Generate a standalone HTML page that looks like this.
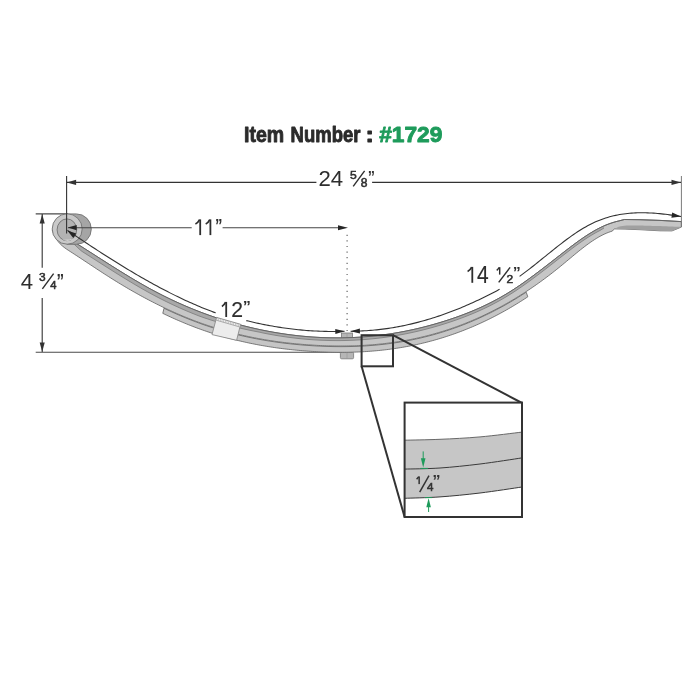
<!DOCTYPE html>
<html><head><meta charset="utf-8"><style>
html,body{margin:0;padding:0;background:#fff;overflow:hidden;}
svg{display:block;will-change:transform;}
text{font-family:"Liberation Sans",sans-serif;}
</style></head><body>
<svg width="700" height="700" viewBox="0 0 700 700">
<rect width="700" height="700" fill="#fff"/>
<!-- title -->
<g font-size="22.7" font-weight="bold" fill="#2b2b2b" stroke="#2b2b2b" stroke-width="0.95" stroke-linejoin="round">
<text transform="translate(244.0,142.4) scale(0.86,1)" x="0" y="0">Item</text>
<text transform="translate(290.6,142.4) scale(0.815,1)" x="0" y="0">Number</text>
<text transform="translate(365.4,142.4) scale(1.1,1)" x="0" y="0">:</text>
<text transform="translate(379.2,142.4) scale(1.0,1)" x="0" y="0" fill="#1e9b5b" stroke="#1e9b5b">#1729</text>
</g>
<!-- extension lines -->
<g stroke="#6a6a6a" stroke-width="1" fill="none">
<line x1="681.4" y1="176" x2="681.4" y2="227.1" stroke="#7a7a7a"/>
<line x1="35.7" y1="213.8" x2="68" y2="213.8" stroke="#4a4a4a" stroke-width="1.15"/>
<line x1="35.7" y1="352.2" x2="342" y2="352.2" stroke="#4a4a4a" stroke-width="1.15"/>
</g>
<!-- dimension lines -->
<g stroke="#333" stroke-width="1.1" fill="none">
<line x1="66.6" y1="182.4" x2="316.4" y2="182.4"/>
<line x1="372.1" y1="182.4" x2="681" y2="182.4"/>
<line x1="42.2" y1="214" x2="42.2" y2="267.7"/>
<line x1="42.2" y1="298" x2="42.2" y2="352"/>
</g>
<line x1="347.1" y1="231" x2="347.1" y2="331" stroke="#666" stroke-width="1.2" stroke-dasharray="1.2,4.4" stroke-dashoffset="1.9"/>
<g fill="#333">
<path d="M66.80,182.40 L76.10,179.85 L76.10,184.95 Z"/>
<path d="M680.80,182.40 L671.50,184.95 L671.50,179.85 Z"/>
<path d="M42.20,214.20 L44.75,223.50 L39.65,223.50 Z"/>
<path d="M42.20,351.80 L39.65,342.50 L44.75,342.50 Z"/>
</g>
<!-- bolt -->
<rect x="341.4" y="333" width="11.1" height="5.6" fill="#b6b6b6" stroke="#777" stroke-width="0.8"/><line x1="347" y1="333.5" x2="347" y2="338.3" stroke="#999" stroke-width="0.6"/>
<rect x="340.4" y="352.2" width="13.2" height="6.6" rx="1.2" fill="#b6b6b6" stroke="#777" stroke-width="0.8"/>
<line x1="347" y1="352.5" x2="347" y2="358.5" stroke="#999" stroke-width="0.6"/>
<!-- second leaf -->
<path d="M164.00,308.23 L166.00,309.18 L168.00,310.12 L170.00,311.05 L172.00,311.96 L174.00,312.86 L176.00,313.75 L178.00,314.62 L180.00,315.48 L182.00,316.33 L184.00,317.17 L186.00,317.99 L188.00,318.80 L190.00,319.60 L192.00,320.38 L194.00,321.15 L196.00,321.91 L198.00,322.66 L200.00,323.39 L202.00,324.10 L204.00,324.81 L206.00,325.50 L208.00,326.17 L210.00,326.84 L212.00,327.49 L214.00,328.12 L216.00,328.75 L218.00,329.36 L220.00,329.96 L222.00,330.55 L224.00,331.12 L226.00,331.68 L228.00,332.23 L230.00,332.77 L232.00,333.30 L234.00,333.81 L236.00,334.32 L238.00,334.81 L240.00,335.29 L242.00,335.75 L244.00,336.21 L246.00,336.65 L248.00,337.09 L250.00,337.51 L252.00,337.92 L254.00,338.32 L256.00,338.71 L258.00,339.09 L260.00,339.46 L262.00,339.82 L264.00,340.17 L266.00,340.51 L268.00,340.84 L270.00,341.15 L272.00,341.46 L274.00,341.76 L276.00,342.05 L278.00,342.33 L280.00,342.60 L282.00,342.85 L284.00,343.11 L286.00,343.35 L288.00,343.58 L290.00,343.80 L292.00,344.02 L294.00,344.22 L296.00,344.42 L298.00,344.61 L300.00,344.79 L302.00,344.96 L304.00,345.12 L306.00,345.27 L308.00,345.42 L310.00,345.56 L312.00,345.69 L314.00,345.81 L316.00,345.93 L318.00,346.03 L320.00,346.13 L322.00,346.22 L324.00,346.30 L326.00,346.37 L328.00,346.44 L330.00,346.49 L332.00,346.54 L334.00,346.58 L336.00,346.60 L338.00,346.62 L340.00,346.63 L342.00,346.63 L344.00,346.62 L346.00,346.60 L348.00,346.57 L350.00,346.53 L352.00,346.48 L354.00,346.42 L356.00,346.35 L358.00,346.27 L360.00,346.18 L362.00,346.08 L364.00,345.97 L366.00,345.85 L368.00,345.72 L370.00,345.57 L372.00,345.42 L374.00,345.25 L376.00,345.07 L378.00,344.88 L380.00,344.68 L382.00,344.47 L384.00,344.25 L386.00,344.01 L388.00,343.76 L390.00,343.50 L392.00,343.23 L394.00,342.95 L396.00,342.65 L398.00,342.34 L400.00,342.02 L402.00,341.69 L404.00,341.34 L406.00,340.98 L408.00,340.61 L410.00,340.23 L412.00,339.83 L414.00,339.41 L416.00,338.99 L418.00,338.55 L420.00,338.10 L422.00,337.63 L424.00,337.15 L426.00,336.66 L428.00,336.15 L430.00,335.63 L432.00,335.09 L434.00,334.54 L436.00,333.98 L438.00,333.40 L440.00,332.80 L442.00,332.19 L444.00,331.57 L446.00,330.93 L448.00,330.28 L450.00,329.61 L452.00,328.93 L454.00,328.23 L456.00,327.51 L458.00,326.79 L460.00,326.04 L462.00,325.28 L464.00,324.51 L466.00,323.71 L468.00,322.91 L470.00,322.08 L472.00,321.25 L474.00,320.39 L476.00,319.52 L478.00,318.63 L480.00,317.73 L482.00,316.81 L484.00,315.88 L486.00,314.92 L488.00,313.95 L490.00,312.97 L492.00,311.97 L494.00,310.95 L496.00,309.91 L498.00,308.86 L500.00,307.79 L502.00,306.70 L504.00,305.60 L506.00,304.47 L508.00,303.34 L510.00,302.18 L512.00,301.00 L514.00,299.81 L516.00,298.60 L518.00,297.38 L520.00,296.13 L522.00,294.87 L524.00,293.59 L526.00,292.29 L526.20,292.15 L527.80,296.80 L526.80,297.46 L524.80,298.77 L522.80,300.06 L520.80,301.33 L518.80,302.58 L516.80,303.81 L514.80,305.03 L512.80,306.23 L510.80,307.41 L508.80,308.58 L506.80,309.72 L504.80,310.85 L502.80,311.96 L500.80,313.06 L498.80,314.13 L496.80,315.19 L494.80,316.24 L492.80,317.26 L490.80,318.27 L488.80,319.26 L486.80,320.24 L484.80,321.20 L482.80,322.14 L480.80,323.07 L478.80,323.97 L476.80,324.87 L474.80,325.75 L472.80,326.61 L470.80,327.45 L468.80,328.28 L466.80,329.09 L464.80,329.89 L462.80,330.67 L460.80,331.44 L458.80,332.19 L456.80,332.92 L454.80,333.64 L452.80,334.35 L450.80,335.04 L448.80,335.71 L446.80,336.37 L444.80,337.02 L442.80,337.65 L440.80,338.26 L438.80,338.86 L436.80,339.45 L434.80,340.02 L432.80,340.57 L430.80,341.12 L428.80,341.64 L426.80,342.16 L424.80,342.66 L422.80,343.14 L420.80,343.61 L418.80,344.07 L416.80,344.52 L414.80,344.95 L412.80,345.36 L410.80,345.77 L408.80,346.16 L406.80,346.54 L404.80,346.90 L402.80,347.25 L400.80,347.59 L398.80,347.92 L396.80,348.23 L394.80,348.53 L392.80,348.82 L390.80,349.10 L388.80,349.36 L386.80,349.61 L384.80,349.85 L382.80,350.08 L380.80,350.30 L378.80,350.50 L376.80,350.70 L374.80,350.88 L372.80,351.05 L370.80,351.21 L368.80,351.36 L366.80,351.50 L364.80,351.62 L362.80,351.74 L360.80,351.84 L358.80,351.94 L356.80,352.02 L354.80,352.10 L352.80,352.16 L350.80,352.21 L348.80,352.26 L346.80,352.29 L344.80,352.31 L342.80,352.33 L340.80,352.33 L338.80,352.33 L336.80,352.31 L334.80,352.29 L332.80,352.25 L330.80,352.21 L328.80,352.16 L326.80,352.10 L324.80,352.03 L322.80,351.95 L320.80,351.87 L318.80,351.77 L316.80,351.67 L314.80,351.56 L312.80,351.44 L310.80,351.31 L308.80,351.18 L306.80,351.03 L304.80,350.88 L302.80,350.72 L300.80,350.55 L298.80,350.38 L296.80,350.19 L294.80,350.00 L292.80,349.80 L290.80,349.59 L288.80,349.37 L286.80,349.14 L284.80,348.90 L282.80,348.66 L280.80,348.40 L278.80,348.13 L276.80,347.86 L274.80,347.58 L272.80,347.28 L270.80,346.98 L268.80,346.66 L266.80,346.34 L264.80,346.01 L262.80,345.66 L260.80,345.31 L258.80,344.94 L256.80,344.57 L254.80,344.18 L252.80,343.78 L250.80,343.38 L248.80,342.96 L246.80,342.53 L244.80,342.09 L242.80,341.64 L240.80,341.17 L238.80,340.70 L236.80,340.21 L234.80,339.72 L232.80,339.21 L230.80,338.68 L228.80,338.15 L226.80,337.61 L224.80,337.05 L222.80,336.48 L220.80,335.90 L218.80,335.30 L216.80,334.70 L214.80,334.08 L212.80,333.44 L210.80,332.80 L208.80,332.14 L206.80,331.47 L204.80,330.78 L202.80,330.08 L200.80,329.37 L198.80,328.65 L196.80,327.91 L194.80,327.16 L192.80,326.39 L190.80,325.62 L188.80,324.82 L186.80,324.02 L184.80,323.20 L182.80,322.37 L180.80,321.53 L178.80,320.67 L176.80,319.80 L174.80,318.92 L172.80,318.02 L170.80,317.11 L168.80,316.19 L166.80,315.26 L164.80,314.32 L162.80,313.36 Z" fill="#c5c5c5" stroke="#6c6c6c" stroke-width="0.9" stroke-linejoin="round"/>
<!-- main leaf -->
<path d="M72.00,240.74 L74.00,241.98 L76.00,243.23 L78.00,244.49 L80.00,245.75 L82.00,247.01 L84.00,248.28 L86.00,249.55 L88.00,250.82 L90.00,252.10 L92.00,253.37 L94.00,254.65 L96.00,255.93 L98.00,257.21 L100.00,258.48 L102.00,259.76 L104.00,261.03 L106.00,262.31 L108.00,263.58 L110.00,264.84 L112.00,266.11 L114.00,267.37 L116.00,268.62 L118.00,269.87 L120.00,271.12 L122.00,272.36 L124.00,273.59 L126.00,274.81 L128.00,276.03 L130.00,277.24 L132.00,278.44 L134.00,279.63 L136.00,280.81 L138.00,281.98 L140.00,283.14 L142.00,284.29 L144.00,285.43 L146.00,286.55 L148.00,287.67 L150.00,288.77 L152.00,289.85 L154.00,290.92 L156.00,291.98 L158.00,293.03 L160.00,294.06 L162.00,295.08 L164.00,296.08 L166.00,297.07 L168.00,298.05 L170.00,299.01 L172.00,299.97 L174.00,300.90 L176.00,301.83 L178.00,302.74 L180.00,303.64 L182.00,304.53 L184.00,305.40 L186.00,306.26 L188.00,307.11 L190.00,307.94 L192.00,308.77 L194.00,309.58 L196.00,310.38 L198.00,311.16 L200.00,311.93 L202.00,312.69 L204.00,313.44 L206.00,314.18 L208.00,314.90 L210.00,315.62 L212.00,316.32 L214.00,317.00 L216.00,317.68 L218.00,318.34 L220.00,319.00 L222.00,319.64 L224.00,320.27 L226.00,320.88 L228.00,321.49 L230.00,322.08 L232.00,322.67 L234.00,323.24 L236.00,323.80 L238.00,324.34 L240.00,324.88 L242.00,325.41 L244.00,325.92 L246.00,326.43 L248.00,326.92 L250.00,327.40 L252.00,327.87 L254.00,328.33 L256.00,328.78 L258.00,329.22 L260.00,329.65 L262.00,330.07 L264.00,330.47 L266.00,330.87 L268.00,331.26 L270.00,331.63 L272.00,331.99 L274.00,332.35 L276.00,332.69 L278.00,333.02 L280.00,333.34 L282.00,333.65 L284.00,333.95 L286.00,334.24 L288.00,334.52 L290.00,334.79 L292.00,335.04 L294.00,335.29 L296.00,335.52 L298.00,335.75 L300.00,335.96 L302.00,336.16 L304.00,336.35 L306.00,336.53 L308.00,336.70 L310.00,336.85 L312.00,337.00 L314.00,337.14 L316.00,337.26 L318.00,337.37 L320.00,337.47 L322.00,337.57 L324.00,337.64 L326.00,337.71 L328.00,337.77 L330.00,337.82 L332.00,337.85 L334.00,337.87 L336.00,337.89 L338.00,337.89 L340.00,337.88 L342.00,337.86 L344.00,337.82 L346.00,337.78 L348.00,337.72 L350.00,337.65 L352.00,337.58 L354.00,337.49 L356.00,337.38 L358.00,337.27 L360.00,337.15 L362.00,337.01 L364.00,336.86 L366.00,336.71 L368.00,336.53 L370.00,336.35 L372.00,336.16 L374.00,335.95 L376.00,335.74 L378.00,335.51 L380.00,335.27 L382.00,335.02 L384.00,334.75 L386.00,334.48 L388.00,334.19 L390.00,333.89 L392.00,333.58 L394.00,333.26 L396.00,332.92 L398.00,332.58 L400.00,332.22 L402.00,331.85 L404.00,331.47 L406.00,331.08 L408.00,330.67 L410.00,330.25 L412.00,329.83 L414.00,329.38 L416.00,328.93 L418.00,328.47 L420.00,327.99 L422.00,327.50 L424.00,327.00 L426.00,326.49 L428.00,325.96 L430.00,325.42 L432.00,324.87 L434.00,324.31 L436.00,323.74 L438.00,323.15 L440.00,322.56 L442.00,321.95 L444.00,321.32 L446.00,320.69 L448.00,320.04 L450.00,319.38 L452.00,318.71 L454.00,318.03 L456.00,317.33 L458.00,316.62 L460.00,315.89 L462.00,315.15 L464.00,314.40 L466.00,313.62 L468.00,312.84 L470.00,312.03 L472.00,311.21 L474.00,310.37 L476.00,309.52 L478.00,308.64 L480.00,307.75 L482.00,306.84 L484.00,305.90 L486.00,304.95 L488.00,303.97 L490.00,302.98 L492.00,301.96 L494.00,300.92 L496.00,299.85 L498.00,298.77 L500.00,297.66 L502.00,296.52 L504.00,295.36 L506.00,294.18 L508.00,292.97 L510.00,291.73 L512.00,290.47 L514.00,289.18 L516.00,287.87 L518.00,286.53 L520.00,285.17 L522.00,283.79 L524.00,282.39 L526.00,280.97 L528.00,279.54 L530.00,278.09 L532.00,276.62 L534.00,275.14 L536.00,273.64 L538.00,272.14 L540.00,270.62 L542.00,269.09 L544.00,267.56 L546.00,266.02 L548.00,264.47 L550.00,262.91 L552.00,261.36 L554.00,259.80 L556.00,258.23 L558.00,256.67 L560.00,255.11 L562.00,253.55 L564.00,251.99 L566.00,250.45 L568.00,248.91 L570.00,247.38 L572.00,245.87 L574.00,244.38 L576.00,242.90 L578.00,241.45 L580.00,240.03 L582.00,238.63 L584.00,237.26 L586.00,235.93 L588.00,234.64 L590.00,233.38 L592.00,232.16 L594.00,230.99 L596.00,229.87 L598.00,228.79 L600.00,227.77 L602.00,226.80 L604.00,225.88 L606.00,225.03 L608.00,224.24 L610.00,223.51 L612.00,222.83 L614.00,222.21 L616.00,221.64 L618.00,221.13 L620.00,220.66 L624.30,219.50 L640.00,219.70 L660.00,220.40 L681.30,221.60 L681.30,227.10 L672.00,230.90 L660.00,230.80 L640.00,229.70 L625.00,229.10 L614.60,228.90 L612.00,231.17 L610.20,231.75 L608.20,232.48 L606.20,233.29 L604.20,234.18 L602.20,235.16 L600.20,236.21 L598.20,237.34 L596.20,238.54 L594.20,239.80 L592.20,241.12 L590.20,242.49 L588.20,243.92 L586.20,245.39 L584.20,246.90 L582.20,248.45 L580.20,250.03 L578.20,251.64 L576.20,253.27 L574.20,254.91 L572.20,256.58 L570.20,258.25 L568.20,259.92 L566.20,261.59 L564.20,263.26 L562.20,264.92 L560.20,266.56 L558.20,268.18 L556.20,269.79 L554.20,271.37 L552.20,272.94 L550.20,274.49 L548.20,276.01 L546.20,277.52 L544.20,279.01 L542.20,280.48 L540.20,281.93 L538.20,283.36 L536.20,284.77 L534.20,286.16 L532.20,287.54 L530.20,288.90 L528.20,290.23 L526.20,291.55 L524.20,292.86 L522.20,294.14 L520.20,295.40 L518.20,296.65 L516.20,297.88 L514.20,299.09 L512.20,300.29 L510.20,301.46 L508.20,302.62 L506.20,303.76 L504.20,304.89 L502.20,305.99 L500.20,307.08 L498.20,308.15 L496.20,309.21 L494.20,310.24 L492.20,311.27 L490.20,312.27 L488.20,313.26 L486.20,314.23 L484.20,315.18 L482.20,316.12 L480.20,317.04 L478.20,317.94 L476.20,318.83 L474.20,319.71 L472.20,320.56 L470.20,321.40 L468.20,322.23 L466.20,323.03 L464.20,323.83 L462.20,324.60 L460.20,325.37 L458.20,326.11 L456.20,326.84 L454.20,327.56 L452.20,328.26 L450.20,328.94 L448.20,329.61 L446.20,330.27 L444.20,330.91 L442.20,331.53 L440.20,332.14 L438.20,332.74 L436.20,333.32 L434.20,333.89 L432.20,334.44 L430.20,334.98 L428.20,335.50 L426.20,336.01 L424.20,336.50 L422.20,336.98 L420.20,337.45 L418.20,337.91 L416.20,338.35 L414.20,338.77 L412.20,339.19 L410.20,339.59 L408.20,339.97 L406.20,340.35 L404.20,340.71 L402.20,341.06 L400.20,341.39 L398.20,341.71 L396.20,342.02 L394.20,342.32 L392.20,342.61 L390.20,342.88 L388.20,343.14 L386.20,343.39 L384.20,343.62 L382.20,343.85 L380.20,344.06 L378.20,344.26 L376.20,344.45 L374.20,344.63 L372.20,344.80 L370.20,344.96 L368.20,345.10 L366.20,345.24 L364.20,345.36 L362.20,345.47 L360.20,345.57 L358.20,345.67 L356.20,345.75 L354.20,345.82 L352.20,345.88 L350.20,345.93 L348.20,345.97 L346.20,346.00 L344.20,346.02 L342.20,346.03 L340.20,346.03 L338.20,346.02 L336.20,346.01 L334.20,345.98 L332.20,345.94 L330.20,345.90 L328.20,345.84 L326.20,345.78 L324.20,345.71 L322.20,345.63 L320.20,345.54 L318.20,345.44 L316.20,345.34 L314.20,345.22 L312.20,345.10 L310.20,344.97 L308.20,344.83 L306.20,344.69 L304.20,344.53 L302.20,344.37 L300.20,344.20 L298.20,344.02 L296.20,343.84 L294.20,343.64 L292.20,343.44 L290.20,343.22 L288.20,343.00 L286.20,342.77 L284.20,342.53 L282.20,342.28 L280.20,342.02 L278.20,341.75 L276.20,341.48 L274.20,341.19 L272.20,340.89 L270.20,340.58 L268.20,340.27 L266.20,339.94 L264.20,339.60 L262.20,339.26 L260.20,338.90 L258.20,338.53 L256.20,338.15 L254.20,337.76 L252.20,337.36 L250.20,336.95 L248.20,336.53 L246.20,336.10 L244.20,335.65 L242.20,335.20 L240.20,334.73 L238.20,334.25 L236.20,333.77 L234.20,333.26 L232.20,332.75 L230.20,332.23 L228.20,331.69 L226.20,331.14 L224.20,330.58 L222.20,330.01 L220.20,329.42 L218.20,328.82 L216.20,328.21 L214.20,327.59 L212.20,326.95 L210.20,326.30 L208.20,325.64 L206.20,324.96 L204.20,324.27 L202.20,323.57 L200.20,322.86 L198.20,322.13 L196.20,321.39 L194.20,320.63 L192.20,319.86 L190.20,319.08 L188.20,318.28 L186.20,317.47 L184.20,316.65 L182.20,315.82 L180.20,314.97 L178.20,314.11 L176.20,313.24 L174.20,312.35 L172.20,311.45 L170.20,310.54 L168.20,309.62 L166.20,308.68 L164.20,307.73 L162.20,306.77 L160.20,305.79 L158.20,304.81 L156.20,303.81 L154.20,302.80 L152.20,301.78 L150.20,300.74 L148.20,299.70 L146.20,298.64 L144.20,297.57 L142.20,296.49 L140.20,295.40 L138.20,294.29 L136.20,293.17 L134.20,292.05 L132.20,290.91 L130.20,289.76 L128.20,288.60 L126.20,287.42 L124.20,286.24 L122.20,285.04 L120.20,283.84 L118.20,282.62 L116.20,281.39 L114.20,280.15 L112.20,278.90 L110.20,277.64 L108.20,276.37 L106.20,275.09 L104.20,273.80 L102.20,272.51 L100.20,271.20 L98.20,269.90 L96.20,268.58 L94.20,267.26 L92.20,265.94 L90.20,264.62 L88.20,263.29 L86.20,261.97 L84.20,260.65 L82.20,259.32 L80.20,258.01 L78.20,256.69 L76.20,255.38 L74.20,254.08 L72.20,252.78 L70.20,251.49 L68.20,250.20 L66.20,248.86 L64.20,247.41 L62.20,245.77 L60.20,243.89 L58.20,241.61 L56.20,238.71 L54.20,234.94 L52.20,230.06 Z" fill="#c6c6c6" stroke="#6c6c6c" stroke-width="0.9" stroke-linejoin="round"/>
<path d="M72.00,240.74 L74.00,241.98 L76.00,243.23 L78.00,244.49 L80.00,245.75 L82.00,247.01 L84.00,248.28 L86.00,249.55 L88.00,250.82 L90.00,252.10 L92.00,253.37 L94.00,254.65 L96.00,255.93 L98.00,257.21 L100.00,258.48 L102.00,259.76 L104.00,261.03 L106.00,262.31 L108.00,263.58 L110.00,264.84 L112.00,266.11 L114.00,267.37 L116.00,268.62 L118.00,269.87 L120.00,271.12 L122.00,272.36 L124.00,273.59 L126.00,274.81 L128.00,276.03 L130.00,277.24 L132.00,278.44 L134.00,279.63 L136.00,280.81 L138.00,281.98 L140.00,283.14 L142.00,284.29 L144.00,285.43 L146.00,286.55 L148.00,287.67 L150.00,288.77 L152.00,289.85 L154.00,290.92 L156.00,291.98 L158.00,293.03 L160.00,294.06 L162.00,295.08 L164.00,296.08 L166.00,297.07 L168.00,298.05 L170.00,299.01 L172.00,299.97 L174.00,300.90 L176.00,301.83 L178.00,302.74 L180.00,303.64 L182.00,304.53 L184.00,305.40 L186.00,306.26 L188.00,307.11 L190.00,307.94 L192.00,308.77 L194.00,309.58 L196.00,310.38 L198.00,311.16 L200.00,311.93 L202.00,312.69 L204.00,313.44 L206.00,314.18 L208.00,314.90 L210.00,315.62 L212.00,316.32 L214.00,317.00 L216.00,317.68 L218.00,318.34 L220.00,319.00 L222.00,319.64 L224.00,320.27 L226.00,320.88 L228.00,321.49 L230.00,322.08 L232.00,322.67 L234.00,323.24 L236.00,323.80 L238.00,324.34 L240.00,324.88 L242.00,325.41 L244.00,325.92 L246.00,326.43 L248.00,326.92 L250.00,327.40 L252.00,327.87 L254.00,328.33 L256.00,328.78 L258.00,329.22 L260.00,329.65 L262.00,330.07 L264.00,330.47 L266.00,330.87 L268.00,331.26 L270.00,331.63 L272.00,331.99 L274.00,332.35 L276.00,332.69 L278.00,333.02 L280.00,333.34 L282.00,333.65 L284.00,333.95 L286.00,334.24 L288.00,334.52 L290.00,334.79 L292.00,335.04 L294.00,335.29 L296.00,335.52 L298.00,335.75 L300.00,335.96 L302.00,336.16 L304.00,336.35 L306.00,336.53 L308.00,336.70 L310.00,336.85 L312.00,337.00 L314.00,337.14 L316.00,337.26 L318.00,337.37 L320.00,337.47 L322.00,337.57 L324.00,337.64 L326.00,337.71 L328.00,337.77 L330.00,337.82 L332.00,337.85 L334.00,337.87 L336.00,337.89 L338.00,337.89 L340.00,337.88 L342.00,337.86 L344.00,337.82 L346.00,337.78 L348.00,337.72 L350.00,337.65 L352.00,337.58 L354.00,337.49 L356.00,337.38 L358.00,337.27 L360.00,337.15 L362.00,337.01 L364.00,336.86 L366.00,336.71 L368.00,336.53 L370.00,336.35 L372.00,336.16 L374.00,335.95 L376.00,335.74 L378.00,335.51 L380.00,335.27 L382.00,335.02 L384.00,334.75 L386.00,334.48 L388.00,334.19 L390.00,333.89 L392.00,333.58 L394.00,333.26 L396.00,332.92 L398.00,332.58 L400.00,332.22 L402.00,331.85 L404.00,331.47 L406.00,331.08 L408.00,330.67 L410.00,330.25 L412.00,329.83 L414.00,329.38 L416.00,328.93 L418.00,328.47 L420.00,327.99 L422.00,327.50 L424.00,327.00 L426.00,326.49 L428.00,325.96 L430.00,325.42 L432.00,324.87 L434.00,324.31 L436.00,323.74 L438.00,323.15 L440.00,322.56 L442.00,321.95 L444.00,321.32 L446.00,320.69 L448.00,320.04 L450.00,319.38 L452.00,318.71 L454.00,318.03 L456.00,317.33 L458.00,316.62 L460.00,315.89 L462.00,315.15 L464.00,314.40 L466.00,313.62 L468.00,312.84 L470.00,312.03 L472.00,311.21 L474.00,310.37 L476.00,309.52 L478.00,308.64 L480.00,307.75 L482.00,306.84 L484.00,305.90 L486.00,304.95 L488.00,303.97 L490.00,302.98 L492.00,301.96 L494.00,300.92 L496.00,299.85 L498.00,298.77 L500.00,297.66 L502.00,296.52 L504.00,295.36 L506.00,294.18 L508.00,292.97 L510.00,291.73 L512.00,290.47 L514.00,289.18 L516.00,287.87 L518.00,286.53 L520.00,285.17 L522.00,283.79 L524.00,282.39 L526.00,280.97 L528.00,279.54 L530.00,278.09 L532.00,276.62 L534.00,275.14 L536.00,273.64 L538.00,272.14 L540.00,270.62 L542.00,269.09 L544.00,267.56 L546.00,266.02 L548.00,264.47 L550.00,262.91 L552.00,261.36 L554.00,259.80 L556.00,258.23 L558.00,256.67 L560.00,255.11 L562.00,253.55 L564.00,251.99 L566.00,250.45 L568.00,248.91 L570.00,247.38 L572.00,245.87 L574.00,244.38 L576.00,242.90 L578.00,241.45 L580.00,240.03 L582.00,238.63 L584.00,237.26 L586.00,235.93 L588.00,234.64 L590.00,233.38 L592.00,232.16 L594.00,230.99 L596.00,229.87 L598.00,228.79 L600.00,227.77 L602.00,226.80 L604.00,225.88 L604.00,228.02 L602.00,229.21 L600.00,230.47 L598.00,231.49 L596.00,232.57 L594.00,233.69 L592.00,234.86 L590.00,236.08 L588.00,237.34 L586.00,238.63 L584.00,239.96 L582.00,241.33 L580.00,242.73 L578.00,244.15 L576.00,245.60 L574.00,247.08 L572.00,248.57 L570.00,250.08 L568.00,251.61 L566.00,253.15 L564.00,254.69 L562.00,256.25 L560.00,257.81 L558.00,259.37 L556.00,260.93 L554.00,262.50 L552.00,264.06 L550.00,265.61 L548.00,267.17 L546.00,268.72 L544.00,270.26 L542.00,271.79 L540.00,273.32 L538.00,274.84 L536.00,276.34 L534.00,277.84 L532.00,279.32 L530.00,280.79 L528.00,282.24 L526.00,283.67 L524.00,285.09 L522.00,286.49 L520.00,287.87 L518.00,289.23 L516.00,290.57 L514.00,291.88 L512.00,293.17 L510.00,294.43 L508.00,295.67 L506.00,296.88 L504.00,298.06 L502.00,299.22 L500.00,300.36 L498.00,301.47 L496.00,302.55 L494.00,303.62 L492.00,304.66 L490.00,305.68 L488.00,306.67 L486.00,307.65 L484.00,308.60 L482.00,309.54 L480.00,310.45 L478.00,311.34 L476.00,312.22 L474.00,313.07 L472.00,313.91 L470.00,314.73 L468.00,315.54 L466.00,316.32 L464.00,317.10 L462.00,317.85 L460.00,318.59 L458.00,319.32 L456.00,320.03 L454.00,320.73 L452.00,321.41 L450.00,322.08 L448.00,322.74 L446.00,323.39 L444.00,324.02 L442.00,324.65 L440.00,325.26 L438.00,325.85 L436.00,326.44 L434.00,327.01 L432.00,327.57 L430.00,328.12 L428.00,328.66 L426.00,329.19 L424.00,329.70 L422.00,330.20 L420.00,330.69 L418.00,331.17 L416.00,331.63 L414.00,332.08 L412.00,332.53 L410.00,332.95 L408.00,333.37 L406.00,333.78 L404.00,334.17 L402.00,334.55 L400.00,334.92 L398.00,335.28 L396.00,335.62 L394.00,335.96 L392.00,336.28 L390.00,336.59 L388.00,336.89 L386.00,337.18 L384.00,337.45 L382.00,337.72 L380.00,337.97 L378.00,338.21 L376.00,338.44 L374.00,338.65 L372.00,338.86 L370.00,339.05 L368.00,339.23 L366.00,339.41 L364.00,339.56 L362.00,339.71 L360.00,339.85 L358.00,339.97 L356.00,340.08 L354.00,340.19 L352.00,340.28 L350.00,340.35 L348.00,340.42 L346.00,340.48 L344.00,340.52 L342.00,340.56 L340.00,340.58 L338.00,340.59 L336.00,340.59 L334.00,340.57 L332.00,340.55 L330.00,340.52 L328.00,340.47 L326.00,340.41 L324.00,340.34 L322.00,340.27 L320.00,340.17 L318.00,340.07 L316.00,339.96 L314.00,339.84 L312.00,339.70 L310.00,339.55 L308.00,339.40 L306.00,339.23 L304.00,339.05 L302.00,338.86 L300.00,338.66 L298.00,338.45 L296.00,338.22 L294.00,337.99 L292.00,337.74 L290.00,337.49 L288.00,337.22 L286.00,336.94 L284.00,336.65 L282.00,336.35 L280.00,336.04 L278.00,335.72 L276.00,335.39 L274.00,335.05 L272.00,334.69 L270.00,334.33 L268.00,333.96 L266.00,333.57 L264.00,333.17 L262.00,332.77 L260.00,332.25 L258.00,331.88 L256.00,331.50 L254.00,331.11 L252.00,330.71 L250.00,330.30 L248.00,329.88 L246.00,329.45 L244.00,329.00 L242.00,328.55 L240.00,328.08 L238.00,327.60 L236.00,327.12 L234.00,326.62 L232.00,326.11 L230.00,325.58 L228.00,325.05 L226.00,324.50 L224.00,323.95 L222.00,323.38 L220.00,322.80 L218.00,322.20 L216.00,321.60 L214.00,320.98 L212.00,320.36 L210.00,319.72 L208.00,319.06 L206.00,318.40 L204.00,317.72 L202.00,317.03 L200.00,316.33 L198.00,315.56 L196.00,314.78 L194.00,313.98 L192.00,313.17 L190.00,312.34 L188.00,311.51 L186.00,310.66 L184.00,309.80 L182.00,308.93 L180.00,308.04 L178.00,307.14 L176.00,306.23 L174.00,305.30 L172.00,304.37 L170.00,303.41 L168.00,302.45 L166.00,301.47 L164.00,300.48 L162.00,299.48 L160.00,298.46 L158.00,297.43 L156.00,296.38 L154.00,295.32 L152.00,294.25 L150.00,293.17 L148.00,292.07 L146.00,290.95 L144.00,289.83 L142.00,288.69 L140.00,287.54 L138.00,286.38 L136.00,285.21 L134.00,284.03 L132.00,282.84 L130.00,281.64 L128.00,280.43 L126.00,279.21 L124.00,277.99 L122.00,276.76 L120.00,275.52 L118.00,274.27 L116.00,273.02 L114.00,271.77 L112.00,270.51 L110.00,269.24 L108.00,267.98 L106.00,266.71 L104.00,265.43 L102.00,264.16 L100.00,262.88 L98.00,261.61 L96.00,260.33 L94.00,259.05 L92.00,257.77 L90.00,256.50 L88.00,255.22 L86.00,253.95 L84.00,252.68 L82.00,251.41 L80.00,249.75 L78.00,247.86 L76.00,245.98 L74.00,244.11 L72.00,242.24 Z" fill="#a8a8a8" stroke="none"/>
<path d="M72.00,242.24 L74.00,244.11 L76.00,245.98 L78.00,247.86 L80.00,249.75 L82.00,251.41 L84.00,252.68 L86.00,253.95 L88.00,255.22 L90.00,256.50 L92.00,257.77 L94.00,259.05 L96.00,260.33 L98.00,261.61 L100.00,262.88 L102.00,264.16 L104.00,265.43 L106.00,266.71 L108.00,267.98 L110.00,269.24 L112.00,270.51 L114.00,271.77 L116.00,273.02 L118.00,274.27 L120.00,275.52 L122.00,276.76 L124.00,277.99 L126.00,279.21 L128.00,280.43 L130.00,281.64 L132.00,282.84 L134.00,284.03 L136.00,285.21 L138.00,286.38 L140.00,287.54 L142.00,288.69 L144.00,289.83 L146.00,290.95 L148.00,292.07 L150.00,293.17 L152.00,294.25 L154.00,295.32 L156.00,296.38 L158.00,297.43 L160.00,298.46 L162.00,299.48 L164.00,300.48 L166.00,301.47 L168.00,302.45 L170.00,303.41 L172.00,304.37 L174.00,305.30 L176.00,306.23 L178.00,307.14 L180.00,308.04 L182.00,308.93 L184.00,309.80 L186.00,310.66 L188.00,311.51 L190.00,312.34 L192.00,313.17 L194.00,313.98 L196.00,314.78 L198.00,315.56 L200.00,316.33 L202.00,317.03 L204.00,317.72 L206.00,318.40 L208.00,319.06 L210.00,319.72 L212.00,320.36 L214.00,320.98 L216.00,321.60 L218.00,322.20 L220.00,322.80 L222.00,323.38 L224.00,323.95 L226.00,324.50 L228.00,325.05 L230.00,325.58 L232.00,326.11 L234.00,326.62 L236.00,327.12 L238.00,327.60 L240.00,328.08 L242.00,328.55 L244.00,329.00 L246.00,329.45 L248.00,329.88 L250.00,330.30 L252.00,330.71 L254.00,331.11 L256.00,331.50 L258.00,331.88 L260.00,332.25 L262.00,332.77 L264.00,333.17 L266.00,333.57 L268.00,333.96 L270.00,334.33 L272.00,334.69 L274.00,335.05 L276.00,335.39 L278.00,335.72 L280.00,336.04 L282.00,336.35 L284.00,336.65 L286.00,336.94 L288.00,337.22 L290.00,337.49 L292.00,337.74 L294.00,337.99 L296.00,338.22 L298.00,338.45 L300.00,338.66 L302.00,338.86 L304.00,339.05 L306.00,339.23 L308.00,339.40 L310.00,339.55 L312.00,339.70 L314.00,339.84 L316.00,339.96 L318.00,340.07 L320.00,340.17 L322.00,340.27 L324.00,340.34 L326.00,340.41 L328.00,340.47 L330.00,340.52 L332.00,340.55 L334.00,340.57 L336.00,340.59 L338.00,340.59 L340.00,340.58 L342.00,340.56 L344.00,340.52 L346.00,340.48 L348.00,340.42 L350.00,340.35 L352.00,340.28 L354.00,340.19 L356.00,340.08 L358.00,339.97 L360.00,339.85 L362.00,339.71 L364.00,339.56 L366.00,339.41 L368.00,339.23 L370.00,339.05 L372.00,338.86 L374.00,338.65 L376.00,338.44 L378.00,338.21 L380.00,337.97 L382.00,337.72 L384.00,337.45 L386.00,337.18 L388.00,336.89 L390.00,336.59 L392.00,336.28 L394.00,335.96 L396.00,335.62 L398.00,335.28 L400.00,334.92 L402.00,334.55 L404.00,334.17 L406.00,333.78 L408.00,333.37 L410.00,332.95 L412.00,332.53 L414.00,332.08 L416.00,331.63 L418.00,331.17 L420.00,330.69 L422.00,330.20 L424.00,329.70 L426.00,329.19 L428.00,328.66 L430.00,328.12 L432.00,327.57 L434.00,327.01 L436.00,326.44 L438.00,325.85 L440.00,325.26 L442.00,324.65 L444.00,324.02 L446.00,323.39 L448.00,322.74 L450.00,322.08 L452.00,321.41 L454.00,320.73 L456.00,320.03 L458.00,319.32 L460.00,318.59 L462.00,317.85 L464.00,317.10 L466.00,316.32 L468.00,315.54 L470.00,314.73 L472.00,313.91 L474.00,313.07 L476.00,312.22 L478.00,311.34 L480.00,310.45 L482.00,309.54 L484.00,308.60 L486.00,307.65 L488.00,306.67 L490.00,305.68 L492.00,304.66 L494.00,303.62 L496.00,302.55 L498.00,301.47 L500.00,300.36 L502.00,299.22 L504.00,298.06 L506.00,296.88 L508.00,295.67 L510.00,294.43 L512.00,293.17 L514.00,291.88 L516.00,290.57 L518.00,289.23 L520.00,287.87 L522.00,286.49 L524.00,285.09 L526.00,283.67 L528.00,282.24 L530.00,280.79 L532.00,279.32 L534.00,277.84 L536.00,276.34 L538.00,274.84 L540.00,273.32 L542.00,271.79 L544.00,270.26 L546.00,268.72 L548.00,267.17 L550.00,265.61 L552.00,264.06 L554.00,262.50 L556.00,260.93 L558.00,259.37 L560.00,257.81 L562.00,256.25 L564.00,254.69 L566.00,253.15 L568.00,251.61 L570.00,250.08 L572.00,248.57 L574.00,247.08 L576.00,245.60 L578.00,244.15 L580.00,242.73 L582.00,241.33 L584.00,239.96 L586.00,238.63 L588.00,237.34 L590.00,236.08 L592.00,234.86 L594.00,233.69 L596.00,232.57 L598.00,231.49 L600.00,230.47 L602.00,229.21 L604.00,228.02" fill="none" stroke="#7a7a7a" stroke-width="0.8"/>
<path d="M614.60,228.90 L616.60,227.66 L618.60,226.70 L620.60,226.35 L622.60,226.01 L624.60,225.67 L626.60,225.59 L628.60,225.58 L630.60,225.56 L632.60,225.55 L634.60,225.54 L636.60,225.52 L638.60,225.51 L640.60,225.52 L642.60,225.58 L644.60,225.64 L646.60,225.70 L648.60,225.76 L650.60,225.82 L652.60,225.88 L654.60,225.94 L656.60,226.00 L658.60,226.06 L660.60,226.12 L662.60,226.20 L664.60,226.27 L666.60,226.35 L668.60,226.42 L670.60,226.50 L672.60,226.57 L674.60,226.65 L676.60,226.72 L678.60,226.80 L680.60,226.87 L681.30,226.90 L681.30,227.10 L672.00,230.90 L660.00,230.80 L640.00,229.70 L625.00,229.10 L614.60,228.90 Z" fill="#a0a0a0" stroke="none"/>
<path d="M72.00,240.74 L74.00,241.98 L76.00,243.23 L78.00,244.49 L80.00,245.75 L82.00,247.01 L84.00,248.28 L86.00,249.55 L88.00,250.82 L90.00,252.10 L92.00,253.37 L94.00,254.65 L96.00,255.93 L98.00,257.21 L100.00,258.48 L102.00,259.76 L104.00,261.03 L106.00,262.31 L108.00,263.58 L110.00,264.84 L112.00,266.11 L114.00,267.37 L116.00,268.62 L118.00,269.87 L120.00,271.12 L122.00,272.36 L124.00,273.59 L126.00,274.81 L128.00,276.03 L130.00,277.24 L132.00,278.44 L134.00,279.63 L136.00,280.81 L138.00,281.98 L140.00,283.14 L142.00,284.29 L144.00,285.43 L146.00,286.55 L148.00,287.67 L150.00,288.77 L152.00,289.85 L154.00,290.92 L156.00,291.98 L158.00,293.03 L160.00,294.06 L162.00,295.08 L164.00,296.08 L166.00,297.07 L168.00,298.05 L170.00,299.01 L172.00,299.97 L174.00,300.90 L176.00,301.83 L178.00,302.74 L180.00,303.64 L182.00,304.53 L184.00,305.40 L186.00,306.26 L188.00,307.11 L190.00,307.94 L192.00,308.77 L194.00,309.58 L196.00,310.38 L198.00,311.16 L200.00,311.93 L202.00,312.69 L204.00,313.44 L206.00,314.18 L208.00,314.90 L210.00,315.62 L212.00,316.32 L214.00,317.00 L216.00,317.68 L218.00,318.34 L220.00,319.00 L222.00,319.64 L224.00,320.27 L226.00,320.88 L228.00,321.49 L230.00,322.08 L232.00,322.67 L234.00,323.24 L236.00,323.80 L238.00,324.34 L240.00,324.88 L242.00,325.41 L244.00,325.92 L246.00,326.43 L248.00,326.92 L250.00,327.40 L252.00,327.87 L254.00,328.33 L256.00,328.78 L258.00,329.22 L260.00,329.65 L262.00,330.07 L264.00,330.47 L266.00,330.87 L268.00,331.26 L270.00,331.63 L272.00,331.99 L274.00,332.35 L276.00,332.69 L278.00,333.02 L280.00,333.34 L282.00,333.65 L284.00,333.95 L286.00,334.24 L288.00,334.52 L290.00,334.79 L292.00,335.04 L294.00,335.29 L296.00,335.52 L298.00,335.75 L300.00,335.96 L302.00,336.16 L304.00,336.35 L306.00,336.53 L308.00,336.70 L310.00,336.85 L312.00,337.00 L314.00,337.14 L316.00,337.26 L318.00,337.37 L320.00,337.47 L322.00,337.57 L324.00,337.64 L326.00,337.71 L328.00,337.77 L330.00,337.82 L332.00,337.85 L334.00,337.87 L336.00,337.89 L338.00,337.89 L340.00,337.88 L342.00,337.86 L344.00,337.82 L346.00,337.78 L348.00,337.72 L350.00,337.65 L352.00,337.58 L354.00,337.49 L356.00,337.38 L358.00,337.27 L360.00,337.15 L362.00,337.01 L364.00,336.86 L366.00,336.71 L368.00,336.53 L370.00,336.35 L372.00,336.16 L374.00,335.95 L376.00,335.74 L378.00,335.51 L380.00,335.27 L382.00,335.02 L384.00,334.75 L386.00,334.48 L388.00,334.19 L390.00,333.89 L392.00,333.58 L394.00,333.26 L396.00,332.92 L398.00,332.58 L400.00,332.22 L402.00,331.85 L404.00,331.47 L406.00,331.08 L408.00,330.67 L410.00,330.25 L412.00,329.83 L414.00,329.38 L416.00,328.93 L418.00,328.47 L420.00,327.99 L422.00,327.50 L424.00,327.00 L426.00,326.49 L428.00,325.96 L430.00,325.42 L432.00,324.87 L434.00,324.31 L436.00,323.74 L438.00,323.15 L440.00,322.56 L442.00,321.95 L444.00,321.32 L446.00,320.69 L448.00,320.04 L450.00,319.38 L452.00,318.71 L454.00,318.03 L456.00,317.33 L458.00,316.62 L460.00,315.89 L462.00,315.15 L464.00,314.40 L466.00,313.62 L468.00,312.84 L470.00,312.03 L472.00,311.21 L474.00,310.37 L476.00,309.52 L478.00,308.64 L480.00,307.75 L482.00,306.84 L484.00,305.90 L486.00,304.95 L488.00,303.97 L490.00,302.98 L492.00,301.96 L494.00,300.92 L496.00,299.85 L498.00,298.77 L500.00,297.66 L502.00,296.52 L504.00,295.36 L506.00,294.18 L508.00,292.97 L510.00,291.73 L512.00,290.47 L514.00,289.18 L516.00,287.87 L518.00,286.53 L520.00,285.17 L522.00,283.79 L524.00,282.39 L526.00,280.97 L528.00,279.54 L530.00,278.09 L532.00,276.62 L534.00,275.14 L536.00,273.64 L538.00,272.14 L540.00,270.62 L542.00,269.09 L544.00,267.56 L546.00,266.02 L548.00,264.47 L550.00,262.91 L552.00,261.36 L554.00,259.80 L556.00,258.23 L558.00,256.67 L560.00,255.11 L562.00,253.55 L564.00,251.99 L566.00,250.45 L568.00,248.91 L570.00,247.38 L572.00,245.87 L574.00,244.38 L576.00,242.90 L578.00,241.45 L580.00,240.03 L582.00,238.63 L584.00,237.26 L586.00,235.93 L588.00,234.64 L590.00,233.38 L592.00,232.16 L594.00,230.99 L596.00,229.87 L598.00,228.79 L600.00,227.77 L602.00,226.80 L604.00,225.88 L606.00,225.03 L608.00,224.24 L610.00,223.51 L612.00,222.83 L614.00,222.21 L616.00,221.64 L618.00,221.13 L620.00,220.66 L624.30,219.50 L640.00,219.70 L660.00,220.40 L681.30,221.60" fill="none" stroke="#666" stroke-width="1"/>
<!-- eye -->
<g stroke="#707070" stroke-width="0.9">
<path d="M67,213.9 L76.4,213.9 A14.9,15.2 0 0 1 76.4,244.3 L67,244.3 Z" fill="#a5a5a5"/>
<ellipse cx="67.2" cy="229" rx="15" ry="15.2" fill="#c9c9c9"/>
<ellipse cx="66.9" cy="229.8" rx="9.8" ry="10.9" fill="#b3b3b3"/>
</g>
<path d="M62,239 Q70,244 75,236 Q72,241 62,239 Z" fill="#d2d2d2"/>
<!-- clamp -->
<path d="M216.6,317.4 L240.6,324.3 L236.6,340.3 L212,334.6 Z" fill="#ececec" stroke="#8a8a8a" stroke-width="0.9"/>
<path d="M216.11,320.17 L239.25,326.83" stroke="#9a9a9a" stroke-width="0.8" fill="none"/>
<path d="M218.04,317.81 L218.42,320.84 M220.54,318.53 L220.92,321.56 M223.04,319.25 L223.42,322.27 M225.54,319.97 L225.92,322.99 M228.04,320.69 L228.42,323.71 M230.54,321.41 L230.92,324.43 M233.03,322.12 L233.41,325.15 M235.53,322.84 L235.91,325.87 M238.03,323.56 L238.41,326.58 " stroke="#aaa" stroke-width="0.7" fill="none"/>
<!-- lines over eye -->
<g stroke="#333" stroke-width="1.1" fill="none">
<line x1="66.6" y1="176" x2="66.6" y2="233.6"/>
<line x1="68" y1="227.7" x2="191.7" y2="227.7" stroke="#444" stroke-width="1.05"/>
<line x1="222.6" y1="227.8" x2="343" y2="227.8" stroke="#444" stroke-width="1.05"/>
<path d="M67.50,230.33 L69.50,231.69 L71.50,233.05 L73.50,234.41 L75.50,235.76 L77.50,237.10 L79.50,238.45 L81.50,239.79 L83.50,241.12 L85.50,242.46 L87.50,243.78 L89.50,245.11 L91.50,246.42 L93.50,247.74 L95.50,249.05 L97.50,250.35 L99.50,251.65 L101.50,252.94 L103.50,254.23 L105.50,255.51 L107.50,256.79 L109.50,258.05 L111.50,259.32 L113.50,260.58 L115.50,261.83 L117.50,263.07 L119.50,264.31 L121.50,265.54 L123.50,266.76 L125.50,267.98 L127.50,269.19 L129.50,270.39 L131.50,271.59 L133.50,272.77 L135.50,273.95 L137.50,275.12 L139.50,276.28 L141.50,277.44 L143.50,278.58 L145.50,279.72 L147.50,280.85 L149.50,281.96 L151.50,283.07 L153.50,284.17 L155.50,285.26 L157.50,286.35 L159.50,287.42 L161.50,288.48 L163.50,289.53 L165.50,290.57 L167.50,291.60 L169.50,292.62 L171.50,293.63 L173.50,294.63 L175.50,295.62 L177.50,296.60 L179.50,297.56 L181.50,298.52 L183.50,299.46 L185.50,300.39 L187.50,301.31 L189.50,302.22 L191.50,303.11 L193.50,304.00 L195.50,304.87 L197.50,305.73 L199.50,306.57 L201.50,307.40 L203.50,308.22 L205.50,309.03 L207.50,309.82 L209.50,310.60 L211.50,311.36 L213.50,312.12 L215.50,312.85 L215.60,312.89"/>
<path d="M246.30,320.60 L248.30,321.08 L250.30,321.56 L252.30,322.02 L254.30,322.48 L256.30,322.92 L258.30,323.35 L260.30,323.77 L262.30,324.19 L264.30,324.59 L266.30,324.98 L268.30,325.36 L270.30,325.72 L272.30,326.08 L274.30,326.43 L276.30,326.76 L278.30,327.09 L280.30,327.40 L282.30,327.70 L284.30,327.99 L286.30,328.27 L288.30,328.54 L290.30,328.79 L292.30,329.04 L294.30,329.27 L296.30,329.49 L298.30,329.70 L300.30,329.90 L302.30,330.09 L304.30,330.26 L306.30,330.43 L308.30,330.58 L310.30,330.72 L312.30,330.85 L314.30,330.96 L316.30,331.06 L318.30,331.15 L320.30,331.23 L322.30,331.30 L324.30,331.35 L326.30,331.40 L328.30,331.43 L330.30,331.44 L332.30,331.45 L334.30,331.44 L336.30,331.42 L338.30,331.39 L340.30,331.34 L342.30,331.28 L344.30,331.21 L344.60,331.20"/>
<path d="M350.60,331.19 L352.60,331.19 L354.60,331.17 L356.60,331.13 L358.60,331.08 L360.60,331.01 L362.60,330.92 L364.60,330.82 L366.60,330.70 L368.60,330.56 L370.60,330.41 L372.60,330.24 L374.60,330.06 L376.60,329.86 L378.60,329.65 L380.60,329.42 L382.60,329.17 L384.60,328.91 L386.60,328.63 L388.60,328.34 L390.60,328.03 L392.60,327.71 L394.60,327.37 L396.60,327.01 L398.60,326.64 L400.60,326.26 L402.60,325.86 L404.60,325.44 L406.60,325.01 L408.60,324.57 L410.60,324.11 L412.60,323.63 L414.60,323.14 L416.60,322.64 L418.60,322.12 L420.60,321.58 L422.60,321.03 L424.60,320.47 L426.60,319.89 L428.60,319.30 L430.60,318.69 L432.60,318.07 L434.60,317.43 L436.60,316.78 L438.60,316.12 L440.60,315.44 L442.60,314.75 L444.60,314.04 L446.60,313.32 L448.60,312.59 L450.60,311.84 L452.60,311.08 L454.60,310.30 L456.60,309.51 L458.60,308.71 L460.60,307.89 L462.60,307.06 L464.60,306.21 L466.60,305.36 L468.60,304.48 L470.60,303.60 L472.60,302.70 L474.60,301.79 L476.60,300.86 L478.60,299.93 L480.60,298.98 L482.60,298.01 L484.60,297.04 L486.60,296.05 L488.60,295.04 L490.60,294.03 L492.60,293.00 L494.60,291.96 L496.60,290.90 L498.60,289.84 L499.60,289.30"/>
<path d="M519.60,276.33 L521.60,274.89 L523.60,273.41 L525.60,271.92 L527.60,270.40 L529.60,268.85 L531.60,267.29 L533.60,265.72 L535.60,264.13 L537.60,262.53 L539.60,260.92 L541.60,259.30 L543.60,257.68 L545.60,256.06 L547.60,254.44 L549.60,252.82 L551.60,251.21 L553.60,249.60 L555.60,248.01 L557.60,246.43 L559.60,244.86 L561.60,243.31 L563.60,241.78 L565.60,240.27 L567.60,238.78 L569.60,237.32 L571.60,235.89 L573.60,234.50 L575.60,233.13 L577.60,231.80 L579.60,230.51 L581.60,229.26 L583.60,228.06 L585.60,226.90 L587.60,225.78 L589.60,224.72 L591.60,223.71 L593.60,222.75 L595.60,221.85 L597.60,220.99 L599.60,220.18 L601.60,219.42 L603.60,218.71 L605.60,218.04 L607.60,217.42 L609.60,216.84 L611.60,216.31 L613.60,215.81 L615.60,215.36 L617.60,214.95 L619.60,214.58 L621.60,214.24 L623.60,213.94 L625.60,213.68 L627.60,213.45 L629.60,213.25 L631.60,213.09 L633.60,212.96 L635.60,212.86 L637.60,212.79 L639.60,212.75 L641.60,212.73 L643.60,212.74 L645.60,212.78 L647.60,212.84 L649.60,212.93 L651.60,213.03 L653.60,213.16 L655.60,213.31 L657.60,213.48 L659.60,213.67 L661.60,213.87 L663.60,214.09 L665.60,214.32 L667.60,214.57 L669.60,214.83 L671.60,215.10 L673.60,215.39 L675.60,215.68 L677.60,215.99 L679.60,216.30 L681.00,216.52"/>
</g>
<g fill="#262626">
<path d="M67.80,227.60 L76.60,224.90 L76.60,230.30 Z"/>
<path d="M348.00,227.80 L338.00,230.30 L338.00,225.30 Z"/>
<path d="M67.30,230.60 L76.27,233.41 L73.24,237.88 Z"/>
<path d="M344.60,331.20 L335.37,333.98 L335.24,328.88 Z"/>
<path d="M350.60,331.19 L359.86,328.49 L359.94,333.59 Z"/>
<path d="M681.00,216.52 L671.42,217.66 L672.18,212.62 Z"/>
</g>
<!-- texts -->
<g fill="#2e2e2e" font-size="22.2">
<text x="318.5" y="186.4">24</text>
<text transform="translate(350.09,178.76) scale(1.2128,1.1537)" font-size="10.0" fill="#2e2e2e" stroke="#2e2e2e" stroke-width="0.465">5</text>
<line x1="353.2" y1="186.3" x2="364.6" y2="170.8" stroke="#2e2e2e" stroke-width="1.4"/>
<text transform="translate(360.65,186.76) scale(1.2041,1.2217)" font-size="10.0" fill="#2e2e2e" stroke="#2e2e2e" stroke-width="0.453">8</text>
<text transform="translate(368.31,185.22) scale(1.8863,2.0166)" font-size="10.0" fill="#2e2e2e" stroke="#2e2e2e" stroke-width="0.102">”</text>
<rect x="199.30" y="219.40" width="1.80" height="15.70" fill="#2e2e2e"/><path d="M199.60,219.70 Q198.10,222.85 195.40,224.00" fill="none" stroke="#2e2e2e" stroke-width="1.71"/>
<rect x="209.50" y="219.40" width="1.80" height="15.70" fill="#2e2e2e"/><path d="M209.80,219.70 Q208.30,222.85 205.70,224.00" fill="none" stroke="#2e2e2e" stroke-width="1.71"/>
<text transform="translate(215.60,234.45) scale(1.9248,2.1511)" font-size="10.0" fill="#2e2e2e" stroke="#2e2e2e" stroke-width="0.098">”</text>
<text x="20.7" y="288.9">4</text>
<text transform="translate(39.12,280.57) scale(1.1917,1.0805)" font-size="10.0" fill="#2e2e2e" stroke="#2e2e2e" stroke-width="0.484">3</text>
<line x1="42.4" y1="288.9" x2="53.6" y2="273.6" stroke="#2e2e2e" stroke-width="1.4"/>
<text transform="translate(50.22,288.77) scale(1.1212,1.0974)" font-size="10.0" fill="#2e2e2e" stroke="#2e2e2e" stroke-width="0.496">4</text>
<text transform="translate(57.07,288.56) scale(2.0018,2.1959)" font-size="10.0" fill="#2e2e2e" stroke="#2e2e2e" stroke-width="0.095">”</text>
<rect x="225.30" y="301.90" width="1.80" height="15.10" fill="#2e2e2e"/><path d="M225.60,302.20 Q224.10,305.35 221.90,306.50" fill="none" stroke="#2e2e2e" stroke-width="1.71"/>
<text transform="translate(231.21,317.38) scale(2.1182,2.2700)" font-size="10.0" fill="#2e2e2e" stroke="#2e2e2e" stroke-width="0.068">2</text>
<text transform="translate(243.32,314.28) scale(2.1173,1.7926)" font-size="10.0" fill="#2e2e2e" stroke="#2e2e2e" stroke-width="0.102">”</text>
<rect x="471.40" y="266.90" width="1.80" height="15.90" fill="#2e2e2e"/><path d="M471.70,267.20 Q470.20,270.35 467.60,271.50" fill="none" stroke="#2e2e2e" stroke-width="1.71"/>
<text transform="translate(476.99,283.18) scale(2.0936,2.4201)" font-size="10.0" fill="#2e2e2e" stroke="#2e2e2e" stroke-width="0.066">4</text>
<rect x="498.97" y="267.20" width="1.45" height="7.40" fill="#2e2e2e"/><path d="M499.27,267.50 Q497.77,269.60 496.70,270.40" fill="none" stroke="#2e2e2e" stroke-width="1.38"/>
<line x1="498.7" y1="282.4" x2="510.1" y2="267.4" stroke="#2e2e2e" stroke-width="1.45"/>
<text transform="translate(506.47,282.77) scale(1.1963,1.0813)" font-size="10.0" fill="#2e2e2e" stroke="#2e2e2e" stroke-width="0.483">2</text>
<text transform="translate(513.34,280.09) scale(2.0788,1.8374)" font-size="10.0" fill="#2e2e2e" stroke="#2e2e2e" stroke-width="0.102">”</text>
</g>
<!-- zoom boxes -->
<g stroke="#333" stroke-width="2" fill="none">
<rect x="361.6" y="335.2" width="31.4" height="31.1"/>
<line x1="393" y1="335.2" x2="522" y2="403"/>
<line x1="361.6" y1="366.3" x2="404.6" y2="517"/>
</g>
<rect x="404.6" y="403" width="117.4" height="114" fill="#fff"/>
<path d="M404.60,440.20 C410.50,440.05 427.43,439.85 440.00,439.30 C452.57,438.75 466.33,438.10 480.00,436.90 C493.67,435.70 515.00,432.90 522.00,432.10 L522,487 L522.00,487.00 C515.00,488.00 493.67,491.35 480.00,493.00 C466.33,494.65 452.57,496.02 440.00,496.90 C427.43,497.78 410.50,498.07 404.60,498.30 Z" fill="#c6c6c6"/>
<path d="M404.60,440.20 C410.50,440.05 427.43,439.85 440.00,439.30 C452.57,438.75 466.33,438.10 480.00,436.90 C493.67,435.70 515.00,432.90 522.00,432.10" fill="none" stroke="#5a5a5a" stroke-width="0.9"/>
<path d="M404.60,469.10 C410.50,468.92 427.43,468.85 440.00,468.00 C452.57,467.15 466.33,465.68 480.00,464.00 C493.67,462.32 515.00,458.92 522.00,457.90" fill="none" stroke="#3a3a3a" stroke-width="1"/>
<path d="M404.60,498.30 C410.50,498.07 427.43,497.78 440.00,496.90 C452.57,496.02 466.33,494.65 480.00,493.00 C493.67,491.35 515.00,488.00 522.00,487.00" fill="none" stroke="#3a3a3a" stroke-width="1"/>
<rect x="404.6" y="402.6" width="117.4" height="114.4" fill="none" stroke="#333" stroke-width="2"/>
<g stroke="#1e9b5b" stroke-width="1.0" fill="#1e9b5b">
<line x1="423.2" y1="451.4" x2="423.2" y2="459.5"/>
<path d="M420.9,458.3 L425.5,458.3 L423.2,467.4 Z" stroke="none"/>
<line x1="420.4" y1="468.4" x2="428" y2="468.4" stroke-width="1.0"/>
<line x1="428.6" y1="512" x2="428.6" y2="506"/>
<path d="M426.3,507.2 L430.9,507.2 L428.6,498.2 Z" stroke="none"/>
<line x1="425.0" y1="497.6" x2="432.2" y2="497.6" stroke-width="1.0"/>
</g>
<g fill="#333">
<rect x="418.42" y="476.40" width="1.45" height="7.70" fill="#2e2e2e"/><path d="M418.72,476.70 Q417.22,478.50 416.60,479.20" fill="none" stroke="#2e2e2e" stroke-width="1.38"/>
<line x1="419.7" y1="492.2" x2="429.0" y2="475.6" stroke="#333" stroke-width="1.5"/>
<text transform="translate(427.01,490.77) scale(1.1609,1.1119)" font-size="10.0" fill="#333" stroke="#333" stroke-width="0.484">4</text>
<text transform="translate(432.94,488.73) scale(2.0788,2.0614)" font-size="10.0" fill="#333" stroke="#333" stroke-width="0.097">”</text>
</g>
</svg>
</body></html>
